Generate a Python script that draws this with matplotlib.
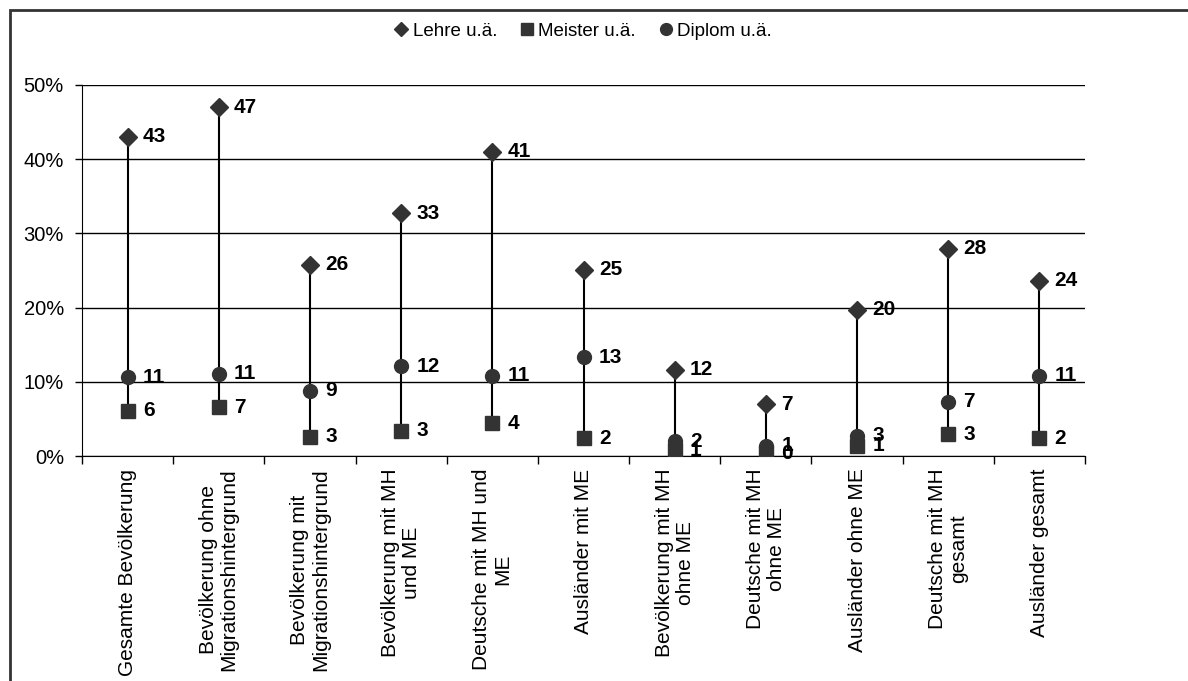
import matplotlib
matplotlib.use("Agg")
import matplotlib.pyplot as plt
from matplotlib.patches import Rectangle
from matplotlib.lines import Line2D
import numpy as np

plt.rcParams['font.family'] = ['Liberation Sans', 'DejaVu Sans']

categories = ["Gesamte Bevölkerung", "Bevölkerung ohne\nMigrationshintergrund",
              "Bevölkerung mit\nMigrationshintergrund", "Bevölkerung mit MH\nund ME",
              "Deutsche mit MH und\nME", "Ausländer mit ME", "Bevölkerung mit MH\nohne ME",
              "Deutsche mit MH\nohne ME", "Ausländer ohne ME", "Deutsche mit MH\ngesamt",
              "Ausländer gesamt"]
lehre = [43.0, 47.0, 25.8, 32.7, 41.0, 25.1, 11.6, 7.0, 19.7, 27.9, 23.6]
meister = [6.1, 6.6, 2.6, 3.4, 4.4, 2.4, 0.8, 0.4, 1.4, 2.9, 2.4]
diplom = [10.6, 11.1, 8.8, 12.1, 10.8, 13.3, 2.0, 1.4, 2.7, 7.3, 10.8]
series_names = ["Lehre u.ä.", "Meister u.ä.", "Diplom u.ä."]
yticks = [0, 10, 20, 30, 40, 50]

W, H = 1188, 681
fig = plt.figure(figsize=(W/100, H/100), dpi=100)
ax = fig.add_axes([82/W, 1-456/H, (1085-82)/W, (456-85)/H])

x = np.arange(len(categories))
col = '#333333'
lo = np.minimum(np.minimum(lehre, meister), diplom)
hi = np.maximum(np.maximum(lehre, meister), diplom)
ax.vlines(x, lo, hi, color='black', lw=1.5, zorder=2)

ax.plot(x, lehre, ls='none', marker='D', ms=9, color=col, zorder=3, label=series_names[0])
ax.plot(x, meister, ls='none', marker='s', ms=9.5, color=col, zorder=3, label=series_names[1])
ax.plot(x, diplom, ls='none', marker='o', ms=10, color=col, zorder=4, label=series_names[2])

for vals in (lehre, meister, diplom):
    for xi, v in zip(x, vals):
        ax.annotate(f"{int(v + 0.5):d}", (xi, v), xytext=(11, 0), textcoords='offset points',
                    ha='left', va='center', fontsize=15, fontweight='bold', color='black')

ax.set_xlim(-0.5, len(categories)-0.5)
ax.set_ylim(0, 50)
ax.set_yticks(yticks)
ax.set_yticklabels([f"{t}%" for t in yticks], fontsize=14.5)
ax.yaxis.grid(True, color='black', lw=1)
ax.set_axisbelow(True)
for s in ['top', 'right']:
    ax.spines[s].set_visible(False)
ax.spines['left'].set_color('black')
ax.spines['bottom'].set_color('black')
ax.tick_params(axis='y', length=5, width=1, pad=8)

ax.set_xticks(np.arange(len(categories)+1)-0.5, minor=False)
ax.set_xticklabels([])
ax.tick_params(axis='x', length=6, width=1, direction='out')
ax.set_xticks(x, minor=True)
ax.set_xticklabels(categories, minor=True, rotation=90, fontsize=15, ha='center', va='top',
                   multialignment='center', linespacing=1.12)
ax.tick_params(axis='x', which='minor', length=0, pad=9)

handles = [Line2D([], [], ls='none', marker='D', ms=7.5, color=col),
           Line2D([], [], ls='none', marker='s', ms=8.5, color=col),
           Line2D([], [], ls='none', marker='o', ms=8.5, color=col)]
fig.legend(handles, series_names, loc='center', bbox_to_anchor=(583/W, 1-31/H), ncol=3,
           frameon=False, fontsize=13.5, handlelength=0.8, handletextpad=0.2, columnspacing=1.2)

fig.patches.append(Rectangle((10/W, -0.05), 1.1, 1-10/H+0.05, transform=fig.transFigure,
                             fill=False, edgecolor='#333333', lw=2))

fig.savefig("out.png", dpi=100)
